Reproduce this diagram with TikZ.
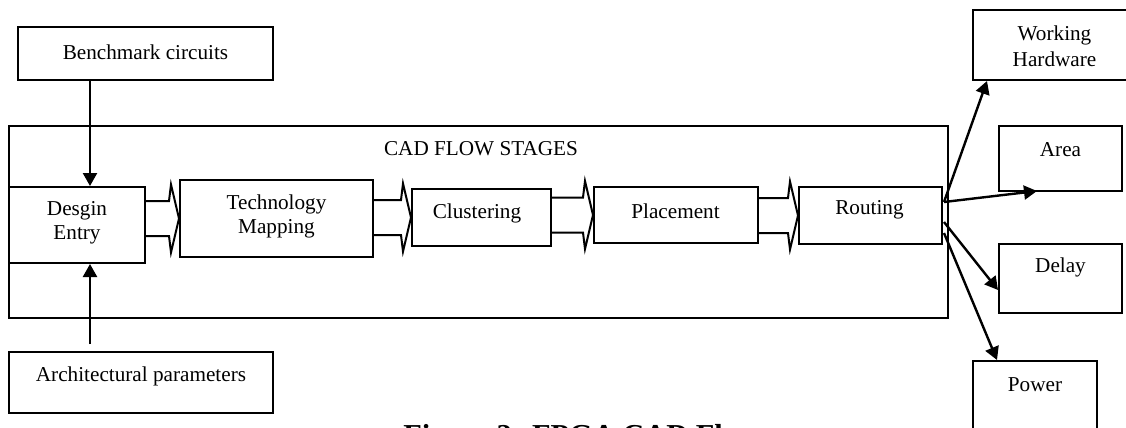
\documentclass[tikz,border=0pt]{standalone}
\usepackage{fontspec}
\setmainfont{Liberation Serif}
\usetikzlibrary{arrows.meta,calc}
\tikzset{
  box/.style={draw, line width=1pt, inner sep=0pt, rectangle},
  lbl/.style={font=\fontsize{10.6}{12}\selectfont, align=center, inner sep=0pt},
  conn/.style={line width=1.2pt, -{Triangle[length=6.5pt,width=7pt]}},
  hollow/.style={line width=1pt, line join=miter},
}
\newcommand\flowarrow[2]{%
  \draw[hollow] let \p1=(#1.east), \p2=(#2.west) in
  (\x1,\y2+8.75pt) -- (\x2-5pt,\y2+8.75pt) -- (\x2-4pt,\y2+17pt) -- (\x2,\y2)
  -- (\x2-4pt,\y2-17pt) -- (\x2-5pt,\y2-8.75pt) -- (\x1,\y2-8.75pt);}
\begin{document}
\begin{tikzpicture}[x=0.5pt,y=-0.5pt]
\useasboundingbox (0,0) rectangle (1126,428);
\clip (0,0) rectangle (1126,428);
% boxes
\node[box, minimum width=127.5pt, minimum height=26.5pt] (bench) at (145.5,53.5) {};
\node[box, minimum width=469.5pt, minimum height=96pt] (cad) at (478.5,222) {};
\node[box, minimum width=68pt, minimum height=38pt] (entry) at (77,225) {};
\node[box, minimum width=96.5pt, minimum height=38.5pt] (tech) at (276.5,218.5) {};
\node[box, minimum width=69.5pt, minimum height=28.5pt] (clus) at (481.5,217.5) {};
\node[box, minimum width=82pt, minimum height=28pt] (place) at (676,215) {};
\node[box, minimum width=71.5pt, minimum height=28.5pt] (route) at (870.5,215.5) {};
\node[box, minimum width=82pt, minimum height=35pt] (wh) at (1055,45) {};
\node[box, minimum width=61.5pt, minimum height=32.5pt] (area) at (1060.5,158.5) {};
\node[box, minimum width=61.5pt, minimum height=34.5pt] (delay) at (1060.5,278.5) {};
\node[box, minimum width=62pt, minimum height=35pt] (power) at (1035,396) {};
\node[box, minimum width=132pt, minimum height=30.5pt] (arch) at (141,382.5) {};
% texts
\node[lbl] (benchT) at (145.5,52) {Benchmark circuits};
\node[lbl] (cadT) at (481,149) {CAD FLOW STAGES};
\node[lbl] (entryT) at (77,223) {Desgin\\Entry};
\node[lbl] (techT) at (276.5,216) {Technology\\Mapping};
\node[lbl] (clusT) at (477,213) {Clustering};
\node[lbl] (placeT) at (675.5,211) {Placement};
\node[lbl] (routeT) at (869.5,210) {Routing};
\node[lbl, font=\fontsize{10.6}{13}\selectfont] (whT) at (1054.5,46) {Working\\Hardware};
\node[lbl] (areaT) at (1060.5,150) {Area};
\node[lbl] (delayT) at (1060.5,267) {Delay};
\node[lbl] (powerT) at (1035,385) {Power};
\node[lbl] (archT) at (141,376) {Architectural parameters};
\node[anchor=base west, inner sep=0pt, font=\fontsize{15.2}{18}\selectfont\bfseries] (caption) at (403,445) {Figure 2: FPGA CAD Flow};
% block arrows
\flowarrow{entry}{tech}
\flowarrow{tech}{clus}
\flowarrow{clus}{place}
\flowarrow{place}{route}
% connectors
\draw[conn] ($(bench.south west)+(73,0)$) -- ($(entry.north west)+(82,0)$);
\draw[conn] ($(arch.north west)+(82,-7)$) -- ($(entry.south west)+(82,0)$);
\draw[conn] ($(route.east)+(1,-13.5)$) -- ($(wh.south west)+(15,0)$);
\draw[conn] ($(route.east)+(1,-13.5)$) -- ($(area.south west)+(39,-1)$);
\draw[conn] ($(route.east)+(1,6.5)$) -- ($(delay.west)+(0,11.5)$);
\draw[conn] ($(route.east)+(1,17.5)$) -- ($(power.north west)+(25,0)$);
\end{tikzpicture}
\end{document}
